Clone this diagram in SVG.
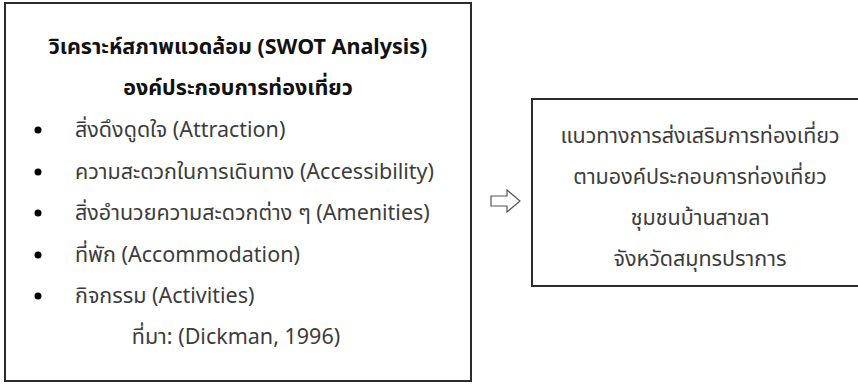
<svg xmlns="http://www.w3.org/2000/svg" width="858" height="384" viewBox="0 0 858 384">
<style>
.box{fill:#fff;stroke:#2b2b2b;stroke-width:2}
.t{font-family:"Noto Sans","Noto Sans Thai","Leelawadee UI",Tahoma,sans-serif;font-size:21.5px;fill:#3c3c3c}
.b{font-weight:bold;fill:#111}
.c{text-anchor:middle}
</style>
<rect width="858" height="384" fill="#fff"/>
<g id="swot">
<rect class="box" x="5" y="3" width="466" height="378"/>
<text class="t b c" x="238" y="54">วิเคราะห์สภาพแวดล้อม (SWOT Analysis)</text>
<text class="t b c" x="238" y="95">องค์ประกอบการท่องเที่ยว</text>
<g fill="#000">
<circle cx="38" cy="130" r="3.5"/>
<circle cx="38" cy="172" r="3.5"/>
<circle cx="38" cy="213" r="3.5"/>
<circle cx="38" cy="255" r="3.5"/>
<circle cx="38" cy="296" r="3.5"/>
</g>
<text class="t" x="75" y="137">สิ่งดึงดูดใจ (Attraction)</text>
<text class="t" x="75" y="179">ความสะดวกในการเดินทาง (Accessibility)</text>
<text class="t" x="75" y="220">สิ่งอำนวยความสะดวกต่าง ๆ (Amenities)</text>
<text class="t" x="75" y="262">ที่พัก (Accommodation)</text>
<text class="t" x="75" y="303">กิจกรรม (Activities)</text>
<text class="t c" x="236" y="344">ที่มา: (Dickman, 1996)</text>
</g>
<g id="connectors">
<path d="M491,196 H507 V190 L520,201 L507,212 V206 H491 Z" fill="#fff" stroke="#555" stroke-width="1.2"/>
</g>
<g id="guideline">
<rect class="box" x="532" y="99" width="336" height="187"/>
<text class="t c" x="700" y="143">แนวทางการส่งเสริมการท่องเที่ยว</text>
<text class="t c" x="700" y="184">ตามองค์ประกอบการท่องเที่ยว</text>
<text class="t c" x="700" y="225">ชุมชนบ้านสาขลา</text>
<text class="t c" x="700" y="266">จังหวัดสมุทรปราการ</text>
</g>
</svg>
